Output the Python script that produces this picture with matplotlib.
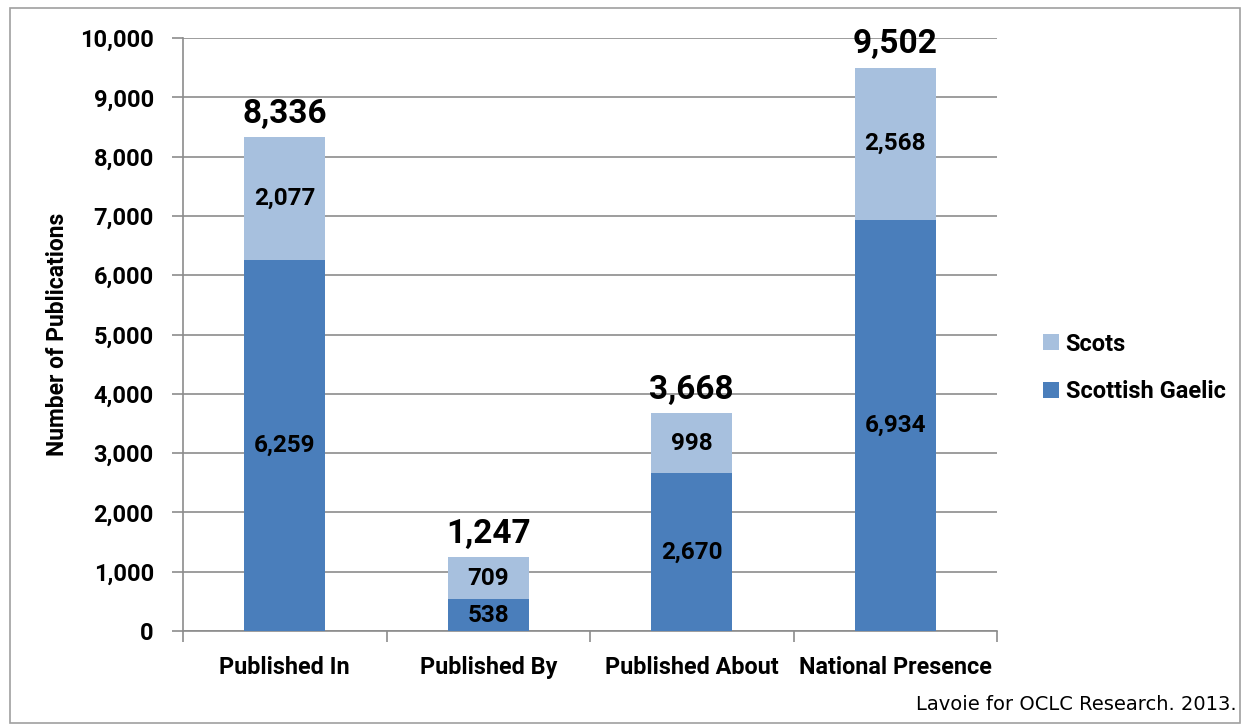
"""
Stacked bar chart of Scottish Gaelic and Scots publications.
"""
import matplotlib
matplotlib.use("Agg")
import matplotlib.pyplot as plt
from matplotlib.patches import Rectangle
from matplotlib.ticker import FuncFormatter, MultipleLocator

categories = ["Published In", "Published By", "Published About", "National Presence"]
gaelic = [6259, 538, 2670, 6934]
scots = [2077, 709, 998, 2568]
totals = [8336, 1247, 3668, 9502]

DARK = "#4A7EBB"
LIGHT = "#A7C0DE"
GRID = "#8C8C8C"
FONT = ["Roboto", "DejaVu Sans"]

plt.rcParams["font.family"] = FONT
plt.rcParams["font.weight"] = "bold"

fig = plt.figure(figsize=(12.47, 7.24), dpi=100)
ax = fig.add_axes([183 / 1247, 1 - 631 / 724, (997 - 183) / 1247, (631 - 38) / 724])

x = list(range(len(categories)))
ax.bar(x, gaelic, width=0.4, color=DARK, label="Scottish Gaelic", zorder=3)
ax.bar(x, scots, width=0.4, bottom=gaelic, color=LIGHT, label="Scots", zorder=3)

def fmt(v):
    return "{:,}".format(v)

for i in x:
    ax.text(i, gaelic[i] / 2, fmt(gaelic[i]), ha="center", va="center",
            fontsize=17.5, fontweight="bold", zorder=4)
    ax.text(i, gaelic[i] + scots[i] / 2, fmt(scots[i]), ha="center", va="center",
            fontsize=17.5, fontweight="bold", zorder=4)
    ax.text(i, totals[i] + 120, fmt(totals[i]), ha="center", va="bottom",
            fontsize=24, fontweight="bold", zorder=4)

ax.set_xlim(-0.5, len(categories) - 0.5)
ax.set_ylim(0, 10000)
ax.yaxis.set_major_locator(MultipleLocator(1000))
ax.yaxis.set_major_formatter(FuncFormatter(lambda v, p: fmt(int(v))))
ax.yaxis.grid(True, color=GRID, linewidth=1.2, zorder=0)

# category ticks sit on the boundaries, labels in the middle
ax.set_xticks([i - 0.5 for i in range(len(categories) + 1)])
ax.set_xticklabels([])
ax.set_xticks(x, minor=True)
ax.set_xticklabels(categories, minor=True)
ax.tick_params(axis="x", which="minor", length=0, pad=18, labelsize=16.8)
ax.tick_params(axis="x", which="major", length=8, width=1.2, color=GRID, direction="out")
ax.tick_params(axis="y", length=8, width=1.2, color=GRID, labelsize=17, pad=13)
for lab in ax.get_xticklabels(minor=True) + ax.get_yticklabels():
    lab.set_fontweight("bold")

for side in ["top", "right"]:
    ax.spines[side].set_visible(False)
for side in ["left", "bottom"]:
    ax.spines[side].set_color(GRID)
    ax.spines[side].set_linewidth(1.2)

ax.set_ylabel("Number of Publications", fontsize=16.5, fontweight="bold", labelpad=8)

handles, labels = ax.get_legend_handles_labels()
leg = fig.legend(handles[::-1], labels[::-1], loc="center left",
                 bbox_to_anchor=(1022 / 1247, 1 - 368 / 724), frameon=False,
                 prop={"family": FONT, "weight": "bold", "size": 17},
                 handlelength=0.65, handleheight=0.65, handletextpad=0.3,
                 labelspacing=1.05)

fig.text(1237 / 1247, 1 - 705 / 724, "Lavoie for OCLC Research. 2013.",
         ha="right", va="center", fontsize=14, fontweight="normal",
         family="DejaVu Sans")

# outer frame of the chart area
fig.patches.append(Rectangle((10 / 1247, 0.002), 1230 / 1247, 1 - 8 / 724 - 0.002,
                             transform=fig.transFigure, fill=False,
                             edgecolor="#A0A0A0", linewidth=1.2))

fig.savefig("out.png", dpi=100)
